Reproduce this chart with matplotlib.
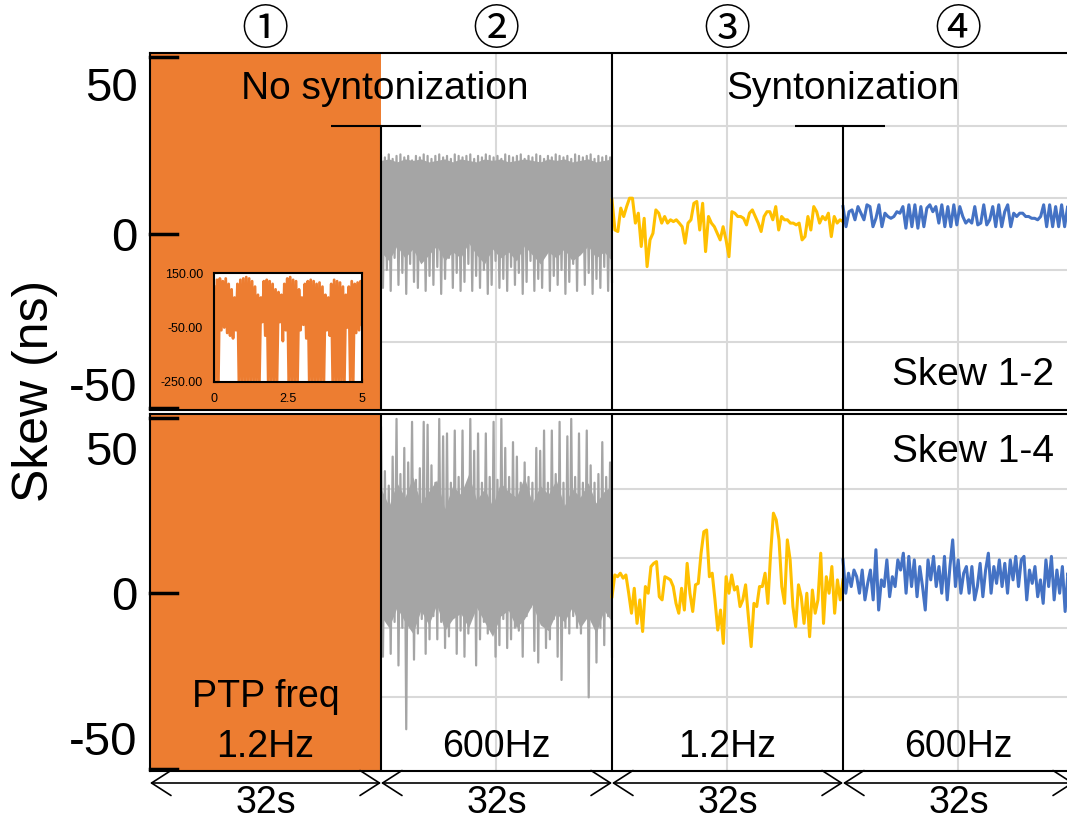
import numpy as np
import matplotlib.pyplot as plt
from matplotlib.transforms import blended_transform_factory

plt.rcParams['font.family'] = ['Liberation Sans', 'DejaVu Sans']

W, H = 1067, 823

# segment layout (seconds) and labels
seg_len = 32
seg_freq = ['1.2Hz', '600Hz', '1.2Hz', '600Hz']
seg_num = ['\u2460', '\u2461', '\u2462', '\u2463']

# segment 1: signal saturates far outside the +-60 ns window
seg1_lo, seg1_hi = -250, 150

# segment 2 (no syntonization, 600Hz): spikes of the dense gray trace
gray_top_hi = [26, 25.5, 26.5, 25, 26, 26.5, 25.5, 26, 24.5, 26, 25.5, 26.5, 26, 25, 26, 26.5, 25.5, 26, 25, 26.5,
               26, 25.5, 26, 26.5, 25, 26, 25.5, 26.5, 26, 25.5, 26, 25, 26.5, 26, 25.5, 26, 26.5, 25, 26, 25.5,
               26.5, 26, 25, 26, 25.5, 26.5, 26, 25.5, 26, 25, 26.5, 26, 25.5, 26, 26.5, 25, 26, 25.5, 26, 25.5]
gray_top_lo = [-18, -12, -19, -8, -17, -13, -20, -10, -16, -18, -9, -19, -14, -17, -11, -20, -15, -8, -18, -13,
               -19, -16, -10, -19, -14, -18, -12, -20, -17, -9, -18, -15, -19, -11, -17, -13, -20, -16, -9, -19,
               -15, -18, -6, -19, -14, -17, -12, -20, -16, -10, -19, -5, -17, -13, -20, -15, -18, -11, -19, -16]
gray_bot_hi = [57, 42, 37, 47, 60, 41, 50, 45, 59, 39, 43, 59, 58, 44, 38, 60, 54, 55, 38, 56,
               40, 56, 36, 60, 49, 55, 38, 55, 40, 59, 39, 60, 50, 40, 52, 47, 38, 45, 40, 38,
               50, 49, 56, 38, 56, 41, 59, 38, 54, 60, 40, 55, 38, 56, 44, 38, 41, 52, 40, 45]
gray_bot_lo = [-22, -8, -21, -10, -25, -12, -47, -6, -23, -14, -9, -21, -16, -8, -16, -10, -19, -15, -8, -21,
               -13, -22, -14, -7, -25, -16, -10, -14, -12, -22, -18, -9, -19, -16, -12, -13, -22, -8, -5, -20,
               -24, -10, -19, -16, -9, -22, -30, -12, -14, -8, -12, -14, -6, -36, -10, -24, -12, -18, -8, -22]
# band that the 600Hz trace fills solid
gray_top_core_hi = [24.5, 25, 24, 25, 24.5, 25, 24, 24.5, 25, 24, 25, 24.5, 24, 25, 24.5,
                    25, 24, 24.5, 25, 24.5, 24, 25, 24.5, 25, 24, 24.5, 25, 24, 24.5, 25]
gray_top_core_lo = [-6, -9, -4, -8, -5, -10, -7, -4, -9, -6, -8, -3, -7, -10, -5,
                    -8, -6, -9, -4, -7, -10, -6, -8, -5, -9, -7, -4, -8, -6, -9]
gray_bot_core_hi = [36, 30, 38, 33, 40, 31, 35, 39, 29, 37, 34, 41, 32, 36, 30,
                    38, 35, 33, 40, 31, 37, 34, 39, 30, 36, 33, 38, 31, 35, 37]
gray_bot_core_lo = [-8, -12, -5, -10, -14, -6, -11, -4, -13, -9, -7, -12, -5, -10, -15,
                    -8, -6, -12, -9, -4, -11, -13, -7, -10, -5, -12, -8, -14, -6, -10]

# segment 3 (syntonization, 1.2Hz)
yellow_top = [11.3, 1.3, 0.8, 8.6, 5.8, 9.1, 11.9, 11.9, 3.6, 6.9, -4.2, 5.2, -10.9, -2, 0.2, 8, 6.9, 3.6, 5.8, 3.6,
              4.7, 4.1, 4.7, 3.6, 2.4, -3.1, 3.6, 4.7, 10.2, 10.8, 1.3, 10.2, -5.9, 5.8, 3.6, 2.4, 0.2, -2, 2.4, -2,
              -7.6, 7.4, 6.9, 5.8, 5.8, 5.2, 3, 6.9, 8, 5.8, 3.6, 0.8, 5.8, 7.4, 7.4, 4.7, 9.1, 1.3, 5.8, 4.7,
              4.7, 3.6, 3.6, 3, 3.6, -2, -0.9, 5.8, 1.3, 9.1, 7.4, 3.6, 5.8, 4.7, 6.9, -0.9, 5.8, 3.6, 4.7, 4.1]
yellow_bot = [-1.3, 6.2, 5.6, 6.8, 5.1, 6.2, -0.1, -7.0, 1.6, -10.5, -2.4, -13.3, 2.2, -0.1, 9.1, 10.2, 10.8, -1.3,
              -2.4, 5.6, 5.1, 4.5, 2.2, -3.6, -7.0, 1.6, -5.9, 10.2, -0.1, -6.4, 2.8, 3.3, 13.7, 21.1, 21.7, 5.6,
              6.8, -2.4, -12.8, -5.9, -17.4, 5.6, -0.1, 6.2, 1.0, 2.2, -4.7, -2.4, 2.8, -8.2, -18.5, -3.6, -4.7,
              2.2, 2.2, 6.8, -3.6, 13.7, 27.5, 25.2, 18.3, 2.2, -3.6, 18.3, 11.4, -4.7, -11.6, 2.8, -1.3, -10.5,
              -0.1, -15.1, 1.0, -7.0, -2.4, 13.7, -10.5, 5.6, -0.1, 9.1, -7.0, 4.5, -2.4, 4.5]

# segment 4 (syntonization, 600Hz)
blue_top = [9.1, 2.4, 7.4, 8, 4.7, 9.1, 6.9, 4.7, 9.7, 9.1, 2.4, 5.2, 9.7, 2.4, 6.9, 5.8, 5.2, 5.8, 7.4, 6.9,
            9.1, 1.9, 9.7, 2.4, 9.7, 1.9, 9.1, 2.4, 8.6, 9.7, 7.4, 9.1, 3.6, 9.7, 2.4, 9.1, 2.4, 9.7, 3, 9.1,
            5.8, 3.6, 4.7, 3.6, 9.1, 3, 3.6, 9.7, 3, 4.7, 9.1, 2.4, 9.7, 2.4, 7.4, 9.7, 2.4, 6.9, 5.8, 6.9,
            6.9, 5.8, 5.8, 5.2, 5.2, 4.7, 5.8, 9.7, 2.4, 9.7, 2.4, 9.1, 2.4, 9.7, 2.4, 9.1, 2.4]
blue_bot = [11.4, -0.1, 6.8, 2.2, 7.9, 5.6, -0.1, 7.9, -2.4, 3.3, 7.9, -2.4, 14.9, -5.9, 4.5, 2.2, 11.4, -1.3,
            5.6, 2.2, 11.4, 7.9, 13.7, -0.1, 12.6, 2.2, 11.4, -1.3, 9.1, 2.2, -5.9, 11.4, 4.5, 12.6, 2.2, 9.1,
            -0.1, 12.6, -2.4, 9.1, 18.3, 2.2, 11.4, -0.1, 6.8, 9.1, -0.1, 9.1, -2.4, 2.2, 10.2, -1.3, 7.9, 13.7,
            -0.1, 9.1, 3.3, 11.4, 2.2, 10.2, -0.1, 11.4, 4.5, 12.6, 2.2, 11.4, 12.6, -2.4, 7.9, 3.3, 9.1, -1.3,
            4.5, -3.6, 11.4, 2.2, 12.6, -2.4, 7.9, -0.1, 9.1, -6.4, 6.8, 2.2]

# inset: first 5 s of segment 1 (ns)
inset_hi = [100, 125, 130, 120, 130, 110, 90, 60, 110, 125, 130, 135, 130, 120, 100, 70, 60, 120, 125, 120,
            110, 90, 80, 70, 110, 130, 135, 125, 120, 90, 60, 110, 120, 125, 120, 110, 115, 100, 70, 60,
            110, 125, 120, 115, 100, 70, 100, 120, 110, 115, 120]
inset_lo = [-250, -250, -60, -50, -70, -80, -90, -60, -250, -250, -250, -250, -250, -250, -250, -250, -30, -80,
            -250, -250, -250, -250, -30, -100, -60, -250, -250, -250, -250, -60, -40, -90, -250, -250, -250,
            -250, -250, -250, -60, -80, -250, -250, -250, -250, -250, -50, -250, -250, -70, -60, -40]

grid_y = [-36, -12, 12, 36]
orange, gray, yellow, blue = '#ED7D31', '#A5A5A5', '#FFC000', '#4472C4'
gridc = '#D9D9D9'


def zigzag(t0, t1, hi, lo):
    x = np.linspace(t0, t1, 2 * len(hi))
    y = np.column_stack([hi, lo]).ravel()
    return x, y


fig = plt.figure(figsize=(W / 100, H / 100), dpi=100)
ax1 = fig.add_axes([150 / W, 1 - 410 / H, 917 / W, 357 / H])
ax2 = fig.add_axes([150 / W, 1 - 771 / H, 917 / W, 357 / H])
xmax = 917 / 231 * seg_len
ax1.set_ylim(-58.7, 60.3)
ax2.set_ylim(-61.4, 61.7)

panels = [(ax1, gray_top_hi, gray_top_lo, gray_top_core_hi, gray_top_core_lo, yellow_top, blue_top),
          (ax2, gray_bot_hi, gray_bot_lo, gray_bot_core_hi, gray_bot_core_lo, yellow_bot, blue_bot)]
for ax, ghi, glo, chi, clo, yv, bv in panels:
    ax.set_xlim(0, xmax)
    for g in grid_y:
        ax.axhline(g, color=gridc, lw=1.5, zorder=0)
    for k in range(4):
        ax.axvline(seg_len * k + seg_len / 2, color=gridc, lw=1.5, zorder=0)
    ax.fill_between([0, seg_len], seg1_lo, seg1_hi, color=orange, lw=0, zorder=3)
    gx, gy = zigzag(seg_len, 2 * seg_len, ghi, glo)
    ax.plot(gx, gy, color=gray, lw=1.6, zorder=2)
    ax.fill_between(np.linspace(seg_len, 2 * seg_len, len(chi)), clo, chi, color=gray, lw=0, zorder=2)
    ax.plot(np.linspace(2 * seg_len, 3 * seg_len, len(yv)), yv, color=yellow, lw=2.2, zorder=2)
    ax.plot(np.linspace(3 * seg_len, xmax + 0.5, len(bv)), bv, color=blue, lw=2.2, zorder=2)
    ax.set_xticks([])
    ax.set_yticks([-50, 0, 50])
    ax.set_yticklabels(['-50', '0', '50'], fontsize=34)
    ax.tick_params(axis='y', length=0, pad=9)
    ax.spines['right'].set_visible(False)
    for s in ['left', 'top', 'bottom']:
        ax.spines[s].set_linewidth(1.5)
        ax.spines[s].set_zorder(5)

# tick marks at panel limits and zero
for ax, marks in [(ax1, [59, 0, -58]), (ax2, [60.3, 0, -60.7])]:
    for m in marks:
        ax.plot([0, 27 / 917], [m, m], transform=ax.get_yaxis_transform(), color='k', lw=2.5,
                zorder=6, clip_on=False)

# segment dividers and brackets
ax1.axvline(seg_len, ymax=0.7955, color='k', lw=1.5, zorder=5)
ax1.axvline(2 * seg_len, color='k', lw=1.5, zorder=5)
ax1.axvline(3 * seg_len, ymax=0.7955, color='k', lw=1.5, zorder=5)
ax1.hlines([36, 36], [25.1, 89.35], [37.5, 101.8], color='k', lw=1.5, zorder=5)
for k in range(1, 4):
    ax2.axvline(seg_len * k, color='k', lw=1.5, zorder=5)

ax1.text(32.55, 48.3, 'No syntonization', fontsize=28, ha='center', va='center', zorder=7)
ax1.text(96, 48.3, 'Syntonization', fontsize=28, ha='center', va='center', zorder=7)
ax1.text(125.2, -47, 'Skew 1-2', fontsize=28, ha='right', va='center', zorder=7)
ax2.text(125.2, 48.6, 'Skew 1-4', fontsize=28, ha='right', va='center', zorder=7)
ax2.text(seg_len / 2, -35.9, 'PTP freq', fontsize=27, ha='center', va='center', zorder=7)
for k, f in enumerate(seg_freq):
    ax2.text(seg_len * k + seg_len / 2, -53.1, f, fontsize=27, ha='center', va='center', zorder=7)

fig.text(35 / W, 1 - 391 / H, 'Skew (ns)', fontsize=36, rotation=90, ha='center', va='center')

# circled segment numbers on top, duration arrows below
tr1 = blended_transform_factory(ax1.transData, fig.transFigure)
tr2 = blended_transform_factory(ax2.transData, fig.transFigure)
for k in range(4):
    c = seg_len * k + seg_len / 2
    ax1.text(c, 1 - 31 / H, seg_num[k], transform=tr1, fontsize=34, ha='center', va='center',
             family=['Noto Sans CJK JP', 'DejaVu Sans'])
    ax2.annotate('', xy=(seg_len * (k + 1), 1 - 783 / H), xytext=(seg_len * k, 1 - 783 / H),
                 xycoords=tr2, textcoords=tr2,
                 arrowprops=dict(arrowstyle='<->,head_length=0.7,head_width=0.45', lw=1.2,
                                 shrinkA=0, shrinkB=0, mutation_scale=20))
    ax2.text(c, 1 - 803 / H, '32s', transform=tr2, fontsize=27, ha='center', va='center')

# inset with the unclipped segment-1 signal
axin = fig.add_axes([214 / W, 1 - 382 / H, 148 / W, 109 / H])
ix, iy = zigzag(0, 5, inset_hi, inset_lo)
axin.plot(ix, iy, color=orange, lw=2.0)
axin.set_xlim(0, 5)
axin.set_ylim(-250, 150)
axin.set_yticks([-250, -50, 150])
axin.set_yticklabels(['-250.00', '-50.00', '150.00'], fontsize=9)
axin.set_xticks([0, 2.5, 5])
axin.set_xticklabels(['0', '2.5', '5'], fontsize=9)
axin.tick_params(direction='in', length=3, pad=8)
for s in axin.spines.values():
    s.set_linewidth(1.5)

fig.savefig('out.png', dpi=100)
